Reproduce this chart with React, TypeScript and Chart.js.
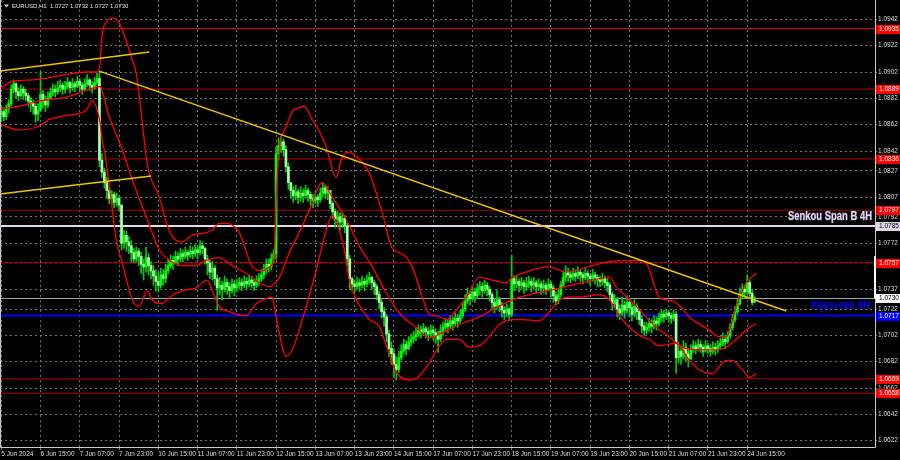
import React, { useEffect, useRef } from "react";
import { Chart, registerables } from "chart.js";

Chart.register(...registerables);

// ---- data (prices in 1/10000 units) ----
const PIP = 10000;
const firstOpen = 10870;

const closes = [
  10872, 10868, 10874, 10878, 10889, 10893, 10887, 10884, 10889, 10886,
  10884, 10880, 10878, 10876, 10870, 10873, 10885, 10880, 10877, 10882,
  10886, 10889, 10887, 10890, 10892, 10889, 10891, 10894, 10890, 10893,
  10891, 10895, 10892, 10889, 10893, 10896, 10892, 10890, 10894, 10897,
  10835, 10826, 10818, 10812, 10806, 10809, 10803, 10806, 10801, 10772,
  10778, 10773, 10770, 10765, 10760, 10766, 10762, 10756, 10754, 10761,
  10755, 10751, 10747, 10743, 10740, 10748, 10745, 10751, 10755, 10759,
  10757, 10762, 10760, 10764, 10762, 10765, 10763, 10766, 10764, 10767,
  10765, 10770, 10768, 10760, 10757, 10750, 10753, 10745, 10738, 10740,
  10737, 10742, 10739, 10736, 10741, 10738, 10740, 10742, 10740, 10743,
  10741, 10744, 10742, 10740, 10743, 10745, 10748, 10752, 10756, 10754,
  10760, 10764, 10840, 10846, 10849, 10843, 10830, 10818, 10812, 10808,
  10811, 10807, 10810, 10808, 10812, 10809, 10806, 10804, 10807, 10805,
  10810, 10814, 10810, 10812, 10802, 10796, 10790, 10792, 10788, 10791,
  10785, 10760, 10745, 10741, 10739, 10742, 10740, 10743, 10741, 10744,
  10746, 10742, 10739, 10733, 10727, 10720, 10716, 10703, 10692, 10688,
  10680, 10676, 10685, 10690, 10695, 10692, 10697, 10699, 10701, 10703,
  10706, 10704, 10707, 10705, 10703, 10706, 10704, 10702, 10699, 10705,
  10708, 10711, 10709, 10713, 10711, 10715, 10713, 10717, 10722, 10728,
  10733, 10730, 10735, 10732, 10737, 10739, 10736, 10740, 10737, 10733,
  10727, 10724, 10729, 10725, 10721, 10719, 10722, 10718, 10745, 10741,
  10743, 10740, 10742, 10739, 10741, 10743, 10740, 10742, 10739, 10741,
  10738, 10740, 10737, 10741, 10738, 10732, 10728, 10733, 10740, 10746,
  10750, 10748, 10746, 10749, 10747, 10750, 10748, 10746, 10749, 10747,
  10745, 10748, 10746, 10744, 10743, 10745, 10742, 10740, 10733, 10726,
  10729, 10722, 10719, 10725, 10721, 10727, 10723, 10718, 10724, 10720,
  10714, 10709, 10706, 10708, 10711, 10709, 10713, 10711, 10715, 10718,
  10716, 10719, 10717, 10715, 10718, 10685, 10690, 10686, 10693, 10688,
  10684, 10691, 10694, 10692, 10695, 10693, 10690, 10694, 10692, 10690,
  10693, 10691, 10694, 10696, 10699, 10697, 10702, 10708, 10714, 10720,
  10726, 10733, 10737, 10735, 10742, 10734, 10727, 10730,
];

const highs = [
  10876, 10875, 10877, 10881, 10892, 10896, 10894, 10890, 10892, 10891,
  10889, 10886, 10883, 10881, 10878, 10878, 10902, 10888, 10884, 10887,
  10890, 10893, 10892, 10895, 10896, 10894, 10895, 10898, 10895, 10897,
  10895, 10899, 10897, 10894, 10897, 10900, 10897, 10895, 10898, 10901,
  10902, 10840, 10829, 10822, 10815, 10812, 10811, 10810, 10808, 10801,
  10782, 10781, 10777, 10774, 10768, 10769, 10768, 10765, 10760, 10769,
  10764, 10758, 10755, 10752, 10750, 10753, 10752, 10756, 10760, 10763,
  10762, 10766, 10765, 10768, 10767, 10769, 10767, 10770, 10769, 10771,
  10769, 10774, 10773, 10769, 10763, 10759, 10758, 10755, 10748, 10746,
  10743, 10747, 10745, 10742, 10745, 10744, 10745, 10746, 10745, 10747,
  10746, 10748, 10747, 10745, 10747, 10749, 10752, 10756, 10760, 10760,
  10764, 10767, 10845, 10852, 10853, 10851, 10846, 10833, 10818, 10815,
  10816, 10813, 10815, 10813, 10816, 10814, 10811, 10809, 10811, 10809,
  10814, 10818, 10816, 10815, 10812, 10804, 10798, 10796, 10795, 10795,
  10793, 10787, 10763, 10746, 10744, 10746, 10745, 10747, 10745, 10748,
  10750, 10747, 10744, 10741, 10736, 10729, 10723, 10718, 10706, 10697,
  10692, 10686, 10690, 10695, 10699, 10698, 10701, 10703, 10705, 10708,
  10710, 10709, 10711, 10709, 10708, 10710, 10709, 10707, 10705, 10710,
  10712, 10715, 10714, 10717, 10716, 10719, 10718, 10721, 10727, 10733,
  10738, 10736, 10740, 10738, 10741, 10743, 10742, 10744, 10742, 10739,
  10735, 10730, 10736, 10731, 10727, 10724, 10726, 10723, 10763, 10747,
  10747, 10745, 10746, 10744, 10746, 10747, 10745, 10746, 10744, 10745,
  10743, 10744, 10742, 10745, 10743, 10740, 10735, 10737, 10743, 10751,
  10755, 10753, 10751, 10753, 10752, 10754, 10752, 10750, 10753, 10751,
  10749, 10752, 10750, 10748, 10747, 10749, 10747, 10745, 10742, 10735,
  10733, 10731, 10725, 10731, 10728, 10732, 10730, 10726, 10729, 10726,
  10722, 10717, 10712, 10712, 10715, 10714, 10717, 10716, 10719, 10721,
  10721, 10722, 10721, 10719, 10721, 10720, 10697, 10694, 10698, 10696,
  10692, 10695, 10698, 10697, 10699, 10698, 10695, 10698, 10696, 10695,
  10697, 10696, 10698, 10700, 10704, 10702, 10705, 10711, 10718, 10724,
  10730, 10738, 10741, 10740, 10748, 10744, 10737, 10732,
];

const lows = [
  10866, 10865, 10866, 10871, 10876, 10886, 10882, 10880, 10883, 10881,
  10880, 10876, 10872, 10870, 10864, 10865, 10872, 10875, 10872, 10875,
  10881, 10884, 10883, 10885, 10887, 10885, 10886, 10889, 10886, 10888,
  10887, 10890, 10888, 10885, 10888, 10891, 10888, 10886, 10889, 10892,
  10830, 10822, 10814, 10806, 10802, 10801, 10799, 10800, 10797, 10767,
  10768, 10766, 10764, 10758, 10757, 10758, 10755, 10749, 10744, 10750,
  10748, 10745, 10740, 10736, 10735, 10738, 10740, 10742, 10749, 10753,
  10752, 10756, 10755, 10758, 10758, 10760, 10759, 10761, 10760, 10762,
  10760, 10763, 10764, 10756, 10748, 10745, 10744, 10740, 10721, 10733,
  10729, 10735, 10733, 10730, 10734, 10732, 10735, 10737, 10736, 10738,
  10737, 10739, 10738, 10736, 10738, 10740, 10743, 10745, 10749, 10750,
  10752, 10757, 10760, 10835, 10841, 10838, 10826, 10813, 10806, 10803,
  10805, 10802, 10804, 10803, 10806, 10804, 10801, 10799, 10802, 10800,
  10803, 10807, 10806, 10805, 10798, 10791, 10784, 10786, 10782, 10784,
  10780, 10755, 10737, 10736, 10734, 10737, 10735, 10738, 10736, 10739,
  10741, 10737, 10733, 10729, 10722, 10715, 10709, 10697, 10686, 10680,
  10670, 10668, 10674, 10683, 10688, 10687, 10691, 10694, 10696, 10698,
  10701, 10700, 10702, 10700, 10698, 10701, 10699, 10696, 10689, 10697,
  10702, 10705, 10704, 10707, 10706, 10709, 10708, 10711, 10715, 10720,
  10726, 10725, 10729, 10727, 10730, 10733, 10731, 10734, 10732, 10728,
  10722, 10719, 10722, 10720, 10716, 10714, 10716, 10713, 10716, 10736,
  10738, 10735, 10737, 10734, 10736, 10738, 10735, 10737, 10734, 10736,
  10733, 10734, 10733, 10736, 10731, 10727, 10725, 10726, 10731, 10738,
  10743, 10743, 10742, 10744, 10743, 10745, 10743, 10741, 10744, 10742,
  10740, 10743, 10741, 10739, 10739, 10740, 10738, 10735, 10729, 10721,
  10723, 10716, 10714, 10717, 10715, 10719, 10716, 10713, 10716, 10714,
  10710, 10704, 10702, 10703, 10705, 10704, 10707, 10706, 10709, 10712,
  10712, 10714, 10712, 10711, 10713, 10673, 10681, 10680, 10684, 10682,
  10678, 10684, 10689, 10688, 10690, 10689, 10686, 10689, 10688, 10686,
  10688, 10687, 10689, 10691, 10694, 10692, 10696, 10700, 10706, 10712,
  10718, 10725, 10730, 10730, 10733, 10731, 10725, 10727,
];

// Bollinger band traces: [bar index, price*10000]
const bbUpper: [number, number][] = [
  [0, 10890], [4.6, 10895], [12.6, 10896], [26.5, 10900], [34.6, 10902], [38.7, 10902],
  [40, 10905], [41.2, 10932], [42.8, 10940], [45.2, 10943], [48.1, 10939], [51, 10925],
  [53.4, 10911], [55, 10901], [57.5, 10863], [59.1, 10837], [60.3, 10825], [64.4, 10807],
  [67.2, 10788], [69.7, 10777], [73.3, 10773], [77.8, 10778], [83.5, 10780], [86, 10782],
  [88.8, 10787], [91.7, 10787], [97, 10780], [102.3, 10754], [106.4, 10751], [109.2, 10754],
  [111.2, 10761], [112, 10805], [113.3, 10843], [116, 10860], [118.6, 10872], [121.4, 10875],
  [123.5, 10876], [126.7, 10866], [129.6, 10857], [132.4, 10845], [136.5, 10822], [138.5, 10835],
  [141, 10841], [144.7, 10838], [150, 10825], [155.3, 10795], [159.3, 10768], [163.4, 10764],
  [167.5, 10754], [171.6, 10731], [174.4, 10718], [177.3, 10717], [181.3, 10714], [185.4, 10721],
  [189.5, 10731], [194.8, 10746], [200.1, 10744], [205.7, 10742], [208.2, 10746], [212.3, 10749],
  [219.2, 10753], [223.3, 10754], [230.3, 10750], [235.5, 10752], [247.8, 10758], [260, 10759],
  [262.8, 10757], [268.1, 10731], [271, 10729], [275, 10727], [280.4, 10716], [288.5, 10706],
  [292.6, 10701], [295.4, 10701], [299.5, 10724], [303.6, 10742], [307.7, 10749],
];

const bbMiddle: [number, number][] = [
  [0, 10874], [7.3, 10876], [15.5, 10880], [26.5, 10883], [34.6, 10888], [40, 10891],
  [44, 10868], [49.3, 10843], [53.4, 10820], [59.1, 10792], [64.4, 10767], [68.5, 10759],
  [73.8, 10755], [79.5, 10755], [83.5, 10759], [88.8, 10761], [94.1, 10755], [99.8, 10749],
  [105.1, 10742], [109.2, 10739], [113.3, 10746], [117.4, 10765], [121.4, 10780], [125.5, 10797],
  [130.8, 10818], [134.9, 10807], [140.6, 10790], [145.9, 10770], [151.2, 10754], [156.9, 10734],
  [162.2, 10719], [169.1, 10708], [174.4, 10700], [179.7, 10704], [187.9, 10711], [194.8, 10716],
  [201.7, 10723], [208.2, 10729], [215.2, 10733], [223.3, 10736], [236.8, 10742], [247.8, 10746],
  [250.6, 10739], [258.8, 10724], [266.9, 10708], [272.2, 10701], [277.5, 10693], [284.4, 10691],
  [291.4, 10691], [295.4, 10693], [300.7, 10701], [304.8, 10708], [307.7, 10711],
];

const bbLower: [number, number][] = [
  [0, 10862], [7.3, 10858], [15.5, 10861], [19.6, 10866], [26.5, 10869], [34.6, 10873],
  [37.1, 10880], [40, 10866], [41.2, 10850], [42.4, 10838], [44, 10816], [46.9, 10774],
  [49.3, 10757], [53.4, 10729], [56.2, 10724], [59.5, 10736], [61.5, 10729], [65.6, 10726],
  [68.5, 10731], [73.8, 10736], [79.5, 10738], [81.9, 10742], [84, 10744], [86, 10736],
  [88.8, 10724], [92.9, 10720], [99.8, 10717], [103.9, 10726], [108, 10730], [110.4, 10731],
  [112, 10716], [116.1, 10686], [118.6, 10691], [122.7, 10714], [128.4, 10752], [132.4, 10782],
  [134.9, 10793], [137, 10786], [139.8, 10767], [141.8, 10744], [145.9, 10725], [150, 10714],
  [154, 10709], [156.9, 10694], [161, 10674], [166.3, 10668], [170.3, 10671], [174.4, 10681],
  [178.5, 10694], [181.3, 10699], [186.6, 10699], [190.7, 10693], [194.8, 10694], [198.9, 10701],
  [202.9, 10710], [208.2, 10714], [212.3, 10714], [219.2, 10713], [222.1, 10717], [227.4, 10729],
  [231.5, 10731], [235.5, 10731], [243.7, 10733], [247.8, 10729], [251.8, 10717], [260, 10702],
  [264, 10699], [268.1, 10694], [275, 10696], [280.4, 10683], [284.4, 10676], [289.7, 10673],
  [295.4, 10683], [297.9, 10683], [302, 10676], [304.8, 10670], [307.7, 10673],
];

// trend lines: [bar index, price*10000]
const trendDown: [number, number][] = [[39.9, 10902.7], [319.9, 10720.5]];
const channelTop: [number, number][] = [[-0.8, 10902.7], [60.3, 10917.2]];
const channelBottom: [number, number][] = [[-0.8, 10809.3], [61.1, 10823]];

// horizontal levels
const redLevels = [1.0935, 1.0889, 1.0836, 1.0797, 1.0757, 1.0669, 1.0658];
const senkouSpanB = 1.0785;
const kijunSen = 1.0717;
const bidPrice = 1.073;
const axisMarkerRange = [1.0762, 1.073];

// axes
const timeTickIndex = [0, 16, 32, 48, 64, 80, 96, 112, 128, 144, 160, 176, 192, 208, 224, 240, 256, 272, 288, 304];
const timeTickLabels = [
  "5 Jun 2024", "6 Jun 15:00", "7 Jun 07:00", "7 Jun 23:00", "10 Jun 15:00", "11 Jun 07:00",
  "11 Jun 23:00", "12 Jun 15:00", "13 Jun 07:00", "13 Jun 23:00", "14 Jun 15:00", "17 Jun 07:00",
  "17 Jun 23:00", "18 Jun 15:00", "19 Jun 07:00", "19 Jun 23:00", "20 Jun 15:00", "21 Jun 07:00",
  "21 Jun 23:00", "24 Jun 15:00",
];
const priceTicks = [
  1.0942, 1.0922, 1.0902, 1.0882, 1.0862, 1.0842, 1.0827, 1.0807, 1.0792, 1.0772,
  1.0757, 1.0737, 1.0722, 1.0702, 1.0682, 1.0662, 1.0642, 1.0622,
];
const titleText = "EURUSD,H1  1.0727 1.0732 1.0727 1.0730";

const X_MIN = -0.53;
const X_MAX = 356.06;
const Y_MIN = 1.06172;
const Y_MAX = 1.09567;

const GRID = "rgba(125,135,148,0.85)";
const TEXT = "#d8d8d8";
const FONT_FAMILY = '"Liberation Sans", Arial, sans-serif';

function drawFitText(ctx: CanvasRenderingContext2D, text: string, right: number, baseline: number, width: number, size: number, color: string, outline: boolean) {
  ctx.save();
  ctx.font = `bold ${size}px "Liberation Sans Narrow", "Liberation Sans", Arial, sans-serif`;
  const w = ctx.measureText(text).width;
  ctx.translate(right - width, baseline);
  ctx.scale(width / w, 1);
  ctx.textBaseline = "alphabetic";
  ctx.textAlign = "left";
  if (outline) {
    ctx.lineWidth = 1.5;
    ctx.strokeStyle = "rgba(60,50,80,0.9)";
    ctx.strokeText(text, 0, 0);
  }
  ctx.fillStyle = color;
  ctx.fillText(text, 0, 0);
  ctx.restore();
}

const overlayPlugin = {
  id: "mtOverlay",
  beforeDraw(chart: any) {
    const { ctx, width, height } = chart;
    ctx.save();
    ctx.fillStyle = "#000000";
    ctx.fillRect(0, 0, width, height);
    ctx.restore();
  },
  afterDraw(chart: any) {
    const { ctx, chartArea: a, scales } = chart;
    const ys = scales.y;
    ctx.save();
    // frame
    ctx.strokeStyle = "#c8c8c8";
    ctx.lineWidth = 1;
    ctx.beginPath();
    ctx.moveTo(a.left + 0.5, a.top);
    ctx.lineTo(a.left + 0.5, a.bottom + 0.5);
    ctx.lineTo(a.right + 0.5, a.bottom + 0.5);
    ctx.lineTo(a.right + 0.5, a.top);
    ctx.stroke();

    // white marker on the price axis
    ctx.strokeStyle = "#ffffff";
    ctx.lineWidth = 2;
    ctx.beginPath();
    ctx.moveTo(a.right, ys.getPixelForValue(axisMarkerRange[0]));
    ctx.lineTo(a.right, ys.getPixelForValue(axisMarkerRange[1]));
    ctx.stroke();

    // object labels
    drawFitText(ctx, "Senkou Span B 4H", a.right - 3, ys.getPixelForValue(senkouSpanB) - 6.5, 84, 13, "#e8dcf0", true);
    drawFitText(ctx, "Kijun-sen 4H", a.right - 5, ys.getPixelForValue(kijunSen) - 6.5, 59, 13, "#0000ff", false);

    // price boxes on the axis
    const boxes = [
      ...redLevels.map((v) => ({ v, bg: "#ff0000", fg: "#ffffff" })),
      { v: senkouSpanB, bg: "#e2d6ee", fg: "#000000" },
      { v: bidPrice, bg: "#ffffff", fg: "#000000" },
      { v: kijunSen, bg: "#0000ff", fg: "#ffffff" },
    ];
    ctx.font = `6.5px ${FONT_FAMILY}`;
    ctx.textBaseline = "middle";
    ctx.textAlign = "left";
    for (const b of boxes) {
      const py = ys.getPixelForValue(b.v);
      ctx.fillStyle = b.bg;
      ctx.fillRect(a.right + 1, Math.round(py) - 4, 900 - a.right - 1, 9);
      ctx.fillStyle = b.fg;
      ctx.fillText(b.v.toFixed(4), a.right + 4, Math.round(py) + 0.5);
    }

    // title
    ctx.fillStyle = "#e0e0e0";
    ctx.beginPath();
    ctx.moveTo(4, 4.5);
    ctx.lineTo(9, 4.5);
    ctx.lineTo(6.5, 7.5);
    ctx.closePath();
    ctx.fill();
    ctx.font = `6px ${FONT_FAMILY}`;
    ctx.textBaseline = "middle";
    ctx.fillText(titleText, 12, 6.5);
    ctx.restore();
  },
};

export default function App() {
  const ref = useRef<HTMLCanvasElement | null>(null);

  useEffect(() => {
    const canvas = ref.current;
    if (!canvas) return;

    const opens = closes.map((_, i) => (i === 0 ? firstOpen : closes[i - 1]));
    const wickData = closes.map((_, i) => ({ x: i, y: [lows[i] / PIP, highs[i] / PIP] }));
    const bodyData = closes.map((c, i) => ({ x: i, y: [opens[i] / PIP, c / PIP] }));
    const bodyColors = closes.map((c, i) => (c >= opens[i] ? "#00ff00" : "#a8ffa8"));
    const pts = (arr: [number, number][]) => arr.map(([x, y]) => ({ x, y: y / PIP }));
    const hLine = (v: number) => [{ x: X_MIN - 10, y: v }, { x: X_MAX + 10, y: v }];

    const lineBase = { type: "line" as const, pointRadius: 0, fill: false, borderJoinStyle: "round" as const };

    const datasets: any[] = [
      ...redLevels.map((v, k) => ({
        ...lineBase, data: hLine(v), borderColor: k === 0 ? "#e00000" : "#b00000", borderWidth: 1, order: 60,
      })),
      { ...lineBase, data: hLine(senkouSpanB), borderColor: "#e6d8ec", borderWidth: 2, order: 59 },
      { ...lineBase, data: hLine(bidPrice), borderColor: "#a8a8a8", borderWidth: 1, order: 58 },
      { ...lineBase, data: hLine(kijunSen), borderColor: "#0000ff", borderWidth: 2, order: 57 },
      {
        type: "bar", data: wickData, backgroundColor: "#00d000", barThickness: 1, grouped: false,
        borderWidth: 0, order: 40,
      },
      {
        type: "bar", data: bodyData, backgroundColor: bodyColors, barThickness: 2, grouped: false,
        borderWidth: 0, minBarLength: 1, order: 39,
      },
      ...[bbUpper, bbMiddle, bbLower].map((b) => ({
        ...lineBase, data: pts(b), borderColor: "#ff0000", borderWidth: 1.3,
        cubicInterpolationMode: "monotone", order: 20,
      })),
      ...[trendDown, channelTop, channelBottom].map((t) => ({
        ...lineBase, data: pts(t), borderColor: "#f2c400", borderWidth: 1.5, order: 10,
      })),
    ];

    const tickFont = { family: FONT_FAMILY, size: 6.5 };

    const chart = new Chart(canvas, {
      type: "bar",
      data: { datasets },
      options: {
        responsive: false,
        animation: false,
        devicePixelRatio: 1,
        events: [],
        layout: { padding: 0 },
        plugins: { legend: { display: false }, tooltip: { enabled: false }, title: { display: false } },
        scales: {
          x: {
            type: "linear",
            min: X_MIN,
            max: X_MAX,
            offset: false,
            grid: { color: GRID, lineWidth: 1, drawTicks: true, tickLength: 3, offset: false },
            border: { display: false, dash: [2, 3] },
            ticks: {
              autoSkip: false, maxRotation: 0, minRotation: 0, align: "start", padding: 0,
              color: TEXT, font: tickFont,
              callback: (_v: any, idx: number) => timeTickLabels[idx] ?? "",
            },
            afterBuildTicks: (s: any) => { s.ticks = timeTickIndex.map((v) => ({ value: v })); },
            afterFit: (s: any) => { s.height = 13; s.paddingLeft = 0; s.paddingRight = 0; },
          },
          y: {
            type: "linear",
            position: "right",
            min: Y_MIN,
            max: Y_MAX,
            grid: { color: GRID, lineWidth: 1, drawTicks: true, tickLength: 2 },
            border: { display: false, dash: [2, 3] },
            ticks: {
              autoSkip: false, padding: 1, color: TEXT, font: tickFont,
              callback: (v: any) => Number(v).toFixed(4),
            },
            afterBuildTicks: (s: any) => { s.ticks = priceTicks.map((v) => ({ value: v })); },
            afterFit: (s: any) => { s.width = 25; s.paddingTop = 0; s.paddingBottom = 0; },
          },
        },
      } as any,
      plugins: [overlayPlugin],
    });
    return () => chart.destroy();
  }, []);

  return (
    <div style={{ position: "absolute", left: 0, top: 0, width: 900, height: 460, background: "#000" }}>
      <canvas ref={ref} width={900} height={460} style={{ display: "block", width: 900, height: 460 }} />
    </div>
  );
}
